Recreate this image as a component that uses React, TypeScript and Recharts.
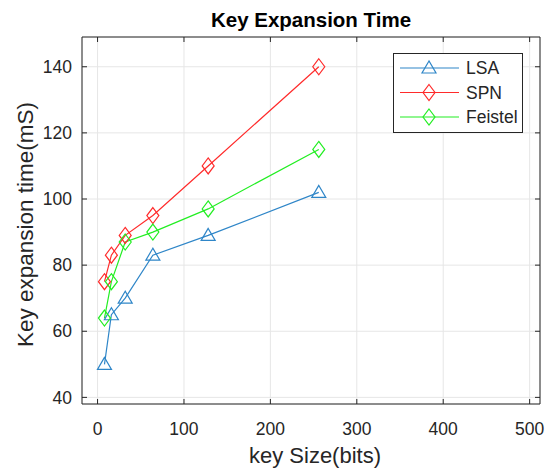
import React from 'react';
import { LineChart, Line, XAxis, YAxis, CartesianGrid, Label } from 'recharts';

const keySizes = [8, 16, 32, 64, 128, 256];
const lsaTime = [50, 65, 70, 83, 89, 102];
const spnTime = [75, 83, 89, 95, 110, 140];
const feistelTime = [64, 75, 87, 90, 97, 115];
const xTicks = [0, 100, 200, 300, 400, 500];
const yTicks = [40, 60, 80, 100, 120, 140];

const series = [
  { key: 'lsa', name: 'LSA', color: '#2f86c8', marker: 'triangle' },
  { key: 'spn', name: 'SPN', color: '#ff2b2b', marker: 'diamond' },
  { key: 'feistel', name: 'Feistel', color: '#22ee22', marker: 'diamond' },
];

const data = keySizes.map((s, i) => ({
  size: s,
  lsa: lsaTime[i],
  spn: spnTime[i],
  feistel: feistelTime[i],
}));

const FONT = '"Liberation Sans", Arial, sans-serif';
const INK = '#262626';

function Marker({ cx, cy, color, marker }: any) {
  if (cx == null || cy == null) return null;
  if (marker === 'triangle') {
    const pts = `${cx},${cy - 7} ${cx - 7},${cy + 5} ${cx + 7},${cy + 5}`;
    return <polygon points={pts} fill="none" stroke={color} strokeWidth={1.2} />;
  }
  const pts = `${cx},${cy - 8} ${cx + 6},${cy} ${cx},${cy + 8} ${cx - 6},${cy}`;
  return <polygon points={pts} fill="none" stroke={color} strokeWidth={1.2} />;
}

const BottomTick = ({ x, y, payload }: any) => (
  <g>
    <line x1={x} y1={y} x2={x} y2={y - 5} stroke={INK} />
    <text x={x} y={y + 31} textAnchor="middle" fontSize={17.5} fill={INK} fontFamily={FONT}>
      {payload.value}
    </text>
  </g>
);

const TopTick = ({ x, y }: any) => <line x1={x} y1={y} x2={x} y2={y + 5} stroke={INK} />;

const LeftTick = ({ x, y, payload }: any) => (
  <g>
    <line x1={x} y1={y} x2={x + 5} y2={y} stroke={INK} />
    <text x={x - 10} y={y} dy="0.35em" textAnchor="end" fontSize={17.5} fill={INK} fontFamily={FONT}>
      {payload.value}
    </text>
  </g>
);

const RightTick = ({ x, y }: any) => <line x1={x} y1={y} x2={x - 5} y2={y} stroke={INK} />;

function LegendBox() {
  return (
    <svg width={130} height={80} style={{ display: 'block' }}>
      <rect x={0.5} y={0.5} width={129} height={79} fill="#fff" stroke={INK} />
      {series.map((s, i) => {
        const y = 15 + i * 24.5;
        return (
          <g key={s.key}>
            <line x1={7} y1={y} x2={66} y2={y} stroke={s.color} strokeWidth={1.2} />
            <Marker cx={36} cy={y} color={s.color} marker={s.marker} />
            <text x={73} y={y} dy="0.35em" fontSize={17.5} fill={INK} fontFamily={FONT}>
              {s.name}
            </text>
          </g>
        );
      })}
    </svg>
  );
}

export default function App() {
  return (
    <div style={{ position: 'absolute', left: 0, top: 0, width: 555, height: 473, background: '#fff' }}>
      <LineChart width={555} height={473} data={data} margin={{ top: 0, right: 0, bottom: 0, left: 0 }}>
        <CartesianGrid stroke="#e6e6e6" strokeWidth={1} />
        <XAxis
          dataKey="size"
          type="number"
          domain={[-18, 512]}
          ticks={xTicks}
          allowDataOverflow
          height={69}
          axisLine={{ stroke: INK }}
          tickLine={false}
          tickSize={0}
          tickMargin={0}
          tick={<BottomTick />}
          interval={0}
        >
          <Label
            content={({ viewBox }: any) => (
              <text x={viewBox.x + viewBox.width / 2 + 4} y={viewBox.y + 59} textAnchor="middle" fontSize={22} fill={INK} fontFamily={FONT}>
                key Size(bits)
              </text>
            )}
          />
        </XAxis>
        <XAxis
          xAxisId="top"
          orientation="top"
          dataKey="size"
          type="number"
          domain={[-18, 512]}
          ticks={xTicks}
          allowDataOverflow
          height={37}
          axisLine={{ stroke: INK }}
          tickLine={false}
          tickSize={0}
          tickMargin={0}
          tick={<TopTick />}
          interval={0}
        >
          <Label
            content={({ viewBox }: any) => (
              <text x={viewBox.x + viewBox.width / 2} y={viewBox.y + 27} textAnchor="middle" fontSize={20.5} fontWeight="bold" fill="#000" fontFamily={FONT}>
                Key Expansion Time
              </text>
            )}
          />
        </XAxis>
        <YAxis
          type="number"
          domain={[38, 149]}
          ticks={yTicks}
          allowDataOverflow
          width={82}
          axisLine={{ stroke: INK }}
          tickLine={false}
          tickSize={0}
          tickMargin={0}
          tick={<LeftTick />}
          interval={0}
        >
          <Label
            content={({ viewBox }: any) => {
              const cx = viewBox.x + 33;
              const cy = viewBox.y + viewBox.height / 2 + 4;
              return (
                <text x={cx} y={cy} textAnchor="middle" fontSize={22.5} fill={INK} fontFamily={FONT} transform={`rotate(-90 ${cx} ${cy})`}>
                  Key expansion time(mS)
                </text>
              );
            }}
          />
        </YAxis>
        <YAxis
          yAxisId="right"
          orientation="right"
          type="number"
          domain={[38, 149]}
          ticks={yTicks}
          allowDataOverflow
          width={15}
          axisLine={{ stroke: INK }}
          tickLine={false}
          tickSize={0}
          tickMargin={0}
          tick={<RightTick />}
          interval={0}
        />
        {series.map((s) => (
          <Line
            key={s.key}
            dataKey={s.key}
            name={s.name}
            stroke={s.color}
            strokeWidth={1.2}
            isAnimationActive={false}
            dot={(p: any) => <Marker key={`${s.key}-${p.index}`} cx={p.cx} cy={p.cy} color={s.color} marker={s.marker} />}
            activeDot={false}
          />
        ))}
      </LineChart>
      <div style={{ position: 'absolute', left: 393, top: 53 }}>
        <LegendBox />
      </div>
    </div>
  );
}
